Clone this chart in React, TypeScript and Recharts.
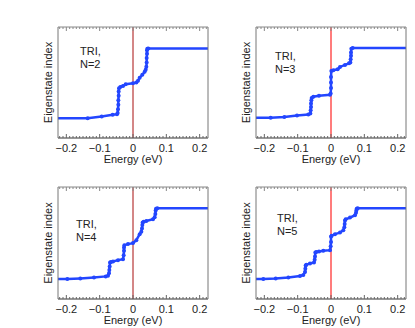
import React from "react"
import { LineChart, Line, XAxis, YAxis, ReferenceLine } from "recharts"

// eigenstate index (in % of the frame height) against energy in eV
const curveN2: [number, number][] = [
  [-0.227, 17.9], [-0.136, 17.9], [-0.094, 19.4], [-0.061, 20.9], [-0.048, 21.5],
  [-0.046, 22.5], [-0.045, 26], [-0.044, 30], [-0.044, 34], [-0.043, 38],
  [-0.043, 42], [-0.042, 44.8], [-0.038, 46], [-0.030, 46.9], [-0.022, 48.4],
  [0.000, 49.3], [0.010, 49.9], [0.015, 51.5], [0.020, 54.3], [0.028, 57],
  [0.035, 59.7], [0.038, 61.5], [0.040, 64.2], [0.041, 68], [0.041, 72],
  [0.042, 76], [0.042, 79], [0.043, 80.4], [0.046, 80.6], [0.227, 80.6],
]

const curveN3: [number, number][] = [
  [-0.227, 18.2], [-0.181, 18.2], [-0.140, 19.0], [-0.102, 20.2], [-0.068, 21.1],
  [-0.062, 22], [-0.061, 25], [-0.060, 28], [-0.060, 31], [-0.059, 34],
  [-0.058, 36.0], [-0.053, 37.2], [-0.036, 38.1], [-0.003, 39.0], [-0.001, 40],
  [0.000, 45], [0.000, 50], [0.000, 55], [0.001, 60.4], [0.007, 61.0],
  [0.020, 61.9], [0.027, 64.0], [0.042, 65.8], [0.054, 67.3], [0.058, 68],
  [0.059, 71], [0.060, 74], [0.060, 77], [0.061, 80.4], [0.065, 81.0],
  [0.227, 81.0],
]

const curveN4: [number, number][] = [
  [-0.227, 17.8], [-0.197, 17.8], [-0.158, 18.4], [-0.117, 19.3], [-0.082, 20.2],
  [-0.075, 20.8], [-0.072, 23], [-0.071, 26], [-0.070, 29], [-0.069, 32.6],
  [-0.066, 33], [-0.060, 33.5], [-0.045, 34.7], [-0.030, 35.6], [-0.028, 39],
  [-0.027, 43], [-0.027, 46], [-0.026, 48.1], [-0.015, 49.0], [0.000, 49.9],
  [0.010, 52.5], [0.020, 57.9], [0.025, 60], [0.027, 63], [0.028, 66],
  [0.029, 68.2], [0.032, 69], [0.040, 69.7], [0.060, 71.2], [0.065, 73],
  [0.067, 76], [0.068, 79], [0.069, 80.5], [0.073, 81.0], [0.227, 81.0],
]

const curveN5: [number, number][] = [
  [-0.227, 17.8], [-0.203, 17.8], [-0.166, 18.4], [-0.128, 19.3], [-0.093, 20.5],
  [-0.083, 21.4], [-0.078, 24], [-0.077, 27], [-0.076, 30], [-0.074, 30.6],
  [-0.063, 31.8], [-0.051, 32.5], [-0.049, 35], [-0.048, 38], [-0.047, 41.5],
  [-0.044, 42], [-0.036, 42.4], [-0.023, 43.0], [-0.003, 43.6], [-0.001, 47],
  [0.000, 51], [0.000, 55.8], [0.002, 56.5], [0.012, 57.9], [0.027, 59.3],
  [0.037, 61.4], [0.040, 64], [0.041, 67], [0.042, 70], [0.044, 71.2],
  [0.057, 72.7], [0.072, 74.8], [0.075, 77], [0.076, 79], [0.077, 80.5],
  [0.080, 81.0], [0.227, 81.0],
]

const majorTicks = [-0.2, -0.1, 0, 0.1, 0.2]
const majorLabels = ["\u22120.2", "\u22120.1", "0", "0.1", "0.2"]
const minorTicks = [
  -0.22, -0.21, -0.2, -0.19, -0.18, -0.17, -0.16, -0.15, -0.14, -0.13, -0.12,
  -0.11, -0.1, -0.09, -0.08, -0.07, -0.06, -0.05, -0.04, -0.03, -0.02, -0.01,
  0, 0.01, 0.02, 0.03, 0.04, 0.05, 0.06, 0.07, 0.08, 0.09, 0.1, 0.11, 0.12,
  0.13, 0.14, 0.15, 0.16, 0.17, 0.18, 0.19, 0.2, 0.21, 0.22,
]
const panelNotes = ["N=2", "N=3", "N=4", "N=5"]

const FONT = "'Liberation Sans', Arial, sans-serif"
const BLUE = "#2346ff"
const TEXT = "#222"
const CHART_W = 215
const CHART_H = 170

const majorIndex = (v: number) => majorTicks.findIndex((t) => Math.abs(t - v) < 1e-6)

const BottomTick = (props: any) => {
  const { x, y, payload } = props
  const k = majorIndex(payload.value)
  return (
    <g>
      <line x1={x} x2={x} y1={y} y2={y - (k >= 0 ? 4 : 2)} stroke="#666" />
      {k >= 0 && (
        <text x={x} y={y + 10} dy="0.35em" textAnchor="middle" fontSize={11} fontFamily={FONT} fill={TEXT}>
          {majorLabels[k]}
        </text>
      )}
    </g>
  )
}

const TopTick = (props: any) => {
  const { x, y, payload } = props
  const k = majorIndex(payload.value)
  return <line x1={x} x2={x} y1={y} y2={y + (k >= 0 ? 4 : 2)} stroke="#888" />
}

interface PanelProps {
  curve: [number, number][]
  note: string
  left: number
  top: number
  refColor: string
  refWidth: number
  noteX: number
  noteY: number
  bottomSpace: number
}

function Panel({ curve, note, left, top, refColor, refWidth, noteX, noteY, bottomSpace }: PanelProps) {
  const data = curve.map(([e, i]) => ({ e, i }))
  const last = data.length - 1

  const renderDot = (p: any) => {
    if (p.index === 0 || p.index === last) return <g key={`d${p.index}`} />
    return <circle key={`d${p.index}`} cx={p.cx} cy={p.cy} r={2} fill={BLUE} stroke="none" />
  }

  return (
    <div style={{ position: "absolute", left, top, width: CHART_W, height: CHART_H }}>
      <LineChart
        width={CHART_W}
        height={CHART_H}
        data={data}
        margin={{ top: 17, right: 2, bottom: 0, left: 38 }}
      >
        <XAxis
          xAxisId="b"
          dataKey="e"
          type="number"
          domain={[-0.225, 0.225]}
          allowDataOverflow
          ticks={minorTicks}
          interval={0}
          tick={(p: any) => <BottomTick {...p} />}
          tickLine={false}
          tickSize={0}
          tickMargin={0}
          height={bottomSpace}
          axisLine={{ stroke: "#333" }}
          label={{
            content: (lp: any) => {
              const vb = lp.viewBox
              return (
                <text
                  x={vb.x + vb.width / 2}
                  y={vb.y + 21}
                  dy="0.35em"
                  textAnchor="middle"
                  fontSize={11}
                  fontFamily={FONT}
                  fill={TEXT}
                >
                  Energy (eV)
                </text>
              )
            },
          }}
        />
        <XAxis
          xAxisId="t"
          orientation="top"
          dataKey="e"
          type="number"
          domain={[-0.225, 0.225]}
          allowDataOverflow
          ticks={minorTicks}
          interval={0}
          tick={(p: any) => <TopTick {...p} />}
          tickLine={false}
          tickSize={0}
          tickMargin={0}
          height={10}
          axisLine={{ stroke: "#888" }}
        />
        <YAxis
          yAxisId="l"
          domain={[0, 100]}
          width={20}
          tick={false}
          tickLine={false}
          axisLine={{ stroke: "#777" }}
          label={{
            content: (lp: any) => {
              const vb = lp.viewBox
              const cx = vb.x + vb.width - 10
              const cy = vb.y + vb.height / 2
              return (
                <text
                  x={cx}
                  y={cy}
                  dy="0.35em"
                  textAnchor="middle"
                  transform={`rotate(-90, ${cx}, ${cy})`}
                  fontSize={11}
                  fontFamily={FONT}
                  fill={TEXT}
                >
                  Eigenstate index
                </text>
              )
            },
          }}
        />
        <YAxis
          yAxisId="r"
          orientation="right"
          domain={[0, 100]}
          width={5}
          tick={false}
          tickLine={false}
          axisLine={{ stroke: "#777" }}
        />
        <ReferenceLine xAxisId="b" yAxisId="l" x={0} stroke={refColor} strokeWidth={refWidth} />
        <Line
          xAxisId="b"
          yAxisId="l"
          dataKey="i"
          type="linear"
          stroke={BLUE}
          strokeWidth={2.5}
          dot={renderDot}
          activeDot={false}
          isAnimationActive={false}
        />
      </LineChart>
      <div
        style={{
          position: "absolute",
          left: noteX,
          top: noteY,
          fontFamily: FONT,
          fontSize: 11,
          lineHeight: "13px",
          color: TEXT,
        }}
      >
        TRI,
        <br />
        {note}
      </div>
    </div>
  )
}

export default function App() {
  return (
    <div style={{ position: "absolute", left: 0, top: 0, width: 415, height: 328, background: "#fff", overflow: "hidden" }}>
      <Panel curve={curveN2} note={panelNotes[0]} left={0} top={0} refColor="#a80e0e" refWidth={1}
        noteX={80} noteY={45} bottomSpace={32} />
      <Panel curve={curveN3} note={panelNotes[1]} left={198} top={0} refColor="#ff5050" refWidth={1.5}
        noteX={77} noteY={50} bottomSpace={32} />
      <Panel curve={curveN4} note={panelNotes[2]} left={0} top={160} refColor="#a80e0e" refWidth={1}
        noteX={76} noteY={58} bottomSpace={31} />
      <Panel curve={curveN5} note={panelNotes[3]} left={198} top={160} refColor="#ff5050" refWidth={1.5}
        noteX={79} noteY={52} bottomSpace={31} />
    </div>
  )
}
